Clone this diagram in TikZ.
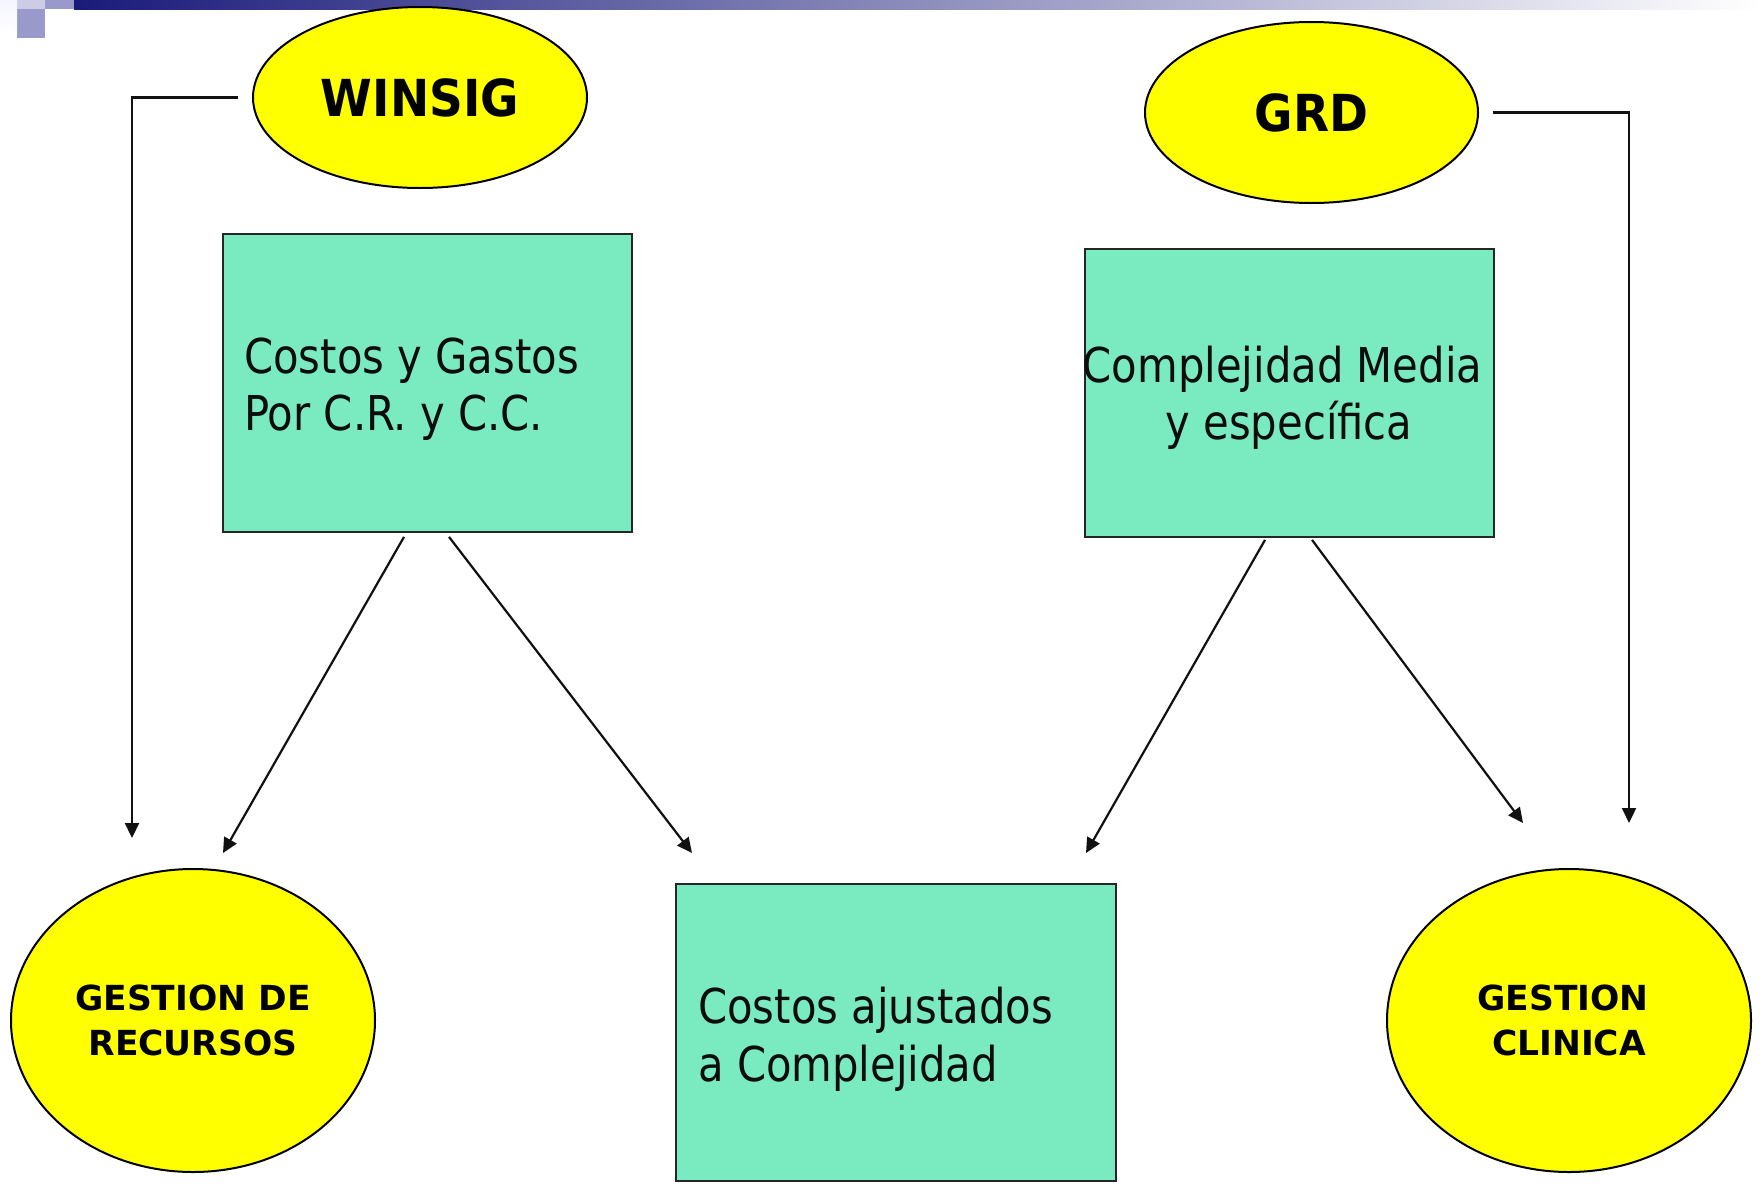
\documentclass[tikz,border=0pt]{standalone}
\usepackage{fontspec}
\setmainfont{DejaVu Sans}
\newfontfamily\regfont[FakeStretch=0.87]{DejaVu Sans}
\newfontfamily\boldfont[FakeStretch=0.92]{DejaVu Sans}
\newfontfamily\smallboldfont{DejaVu Sans}
\usetikzlibrary{arrows.meta,shapes.geometric}
\definecolor{boxfill}{RGB}{122,235,192}
\definecolor{ovalfill}{RGB}{255,255,0}
\definecolor{lineblk}{RGB}{17,17,17}
\definecolor{navybar}{RGB}{26,26,122}
\definecolor{sqlight}{RGB}{204,204,230}
\definecolor{sqmid}{RGB}{153,153,204}
\begin{document}
\begin{tikzpicture}[x=1pt,y=-1pt,
  oval/.style={ellipse, draw=black, line width=2pt, fill=ovalfill, inner sep=0pt, align=center},
  bigbold/.style={font=\boldfont\bfseries\fontsize{51}{60}\selectfont},
  smallbold/.style={font=\smallboldfont\bfseries\fontsize{34.5}{45}\selectfont},
  box/.style={rectangle, draw=black!85, line width=1.8pt, fill=boxfill, inner sep=0pt},
  boxtext/.style={font=\regfont\fontsize{48}{57.5}\selectfont, inner sep=0pt, text=black!95},
  conn/.style={draw=lineblk, line width=2.2pt, -{Triangle[length=15pt,width=14pt]}}
]
\useasboundingbox (0,0) rectangle (1760,1183);
\fill[white] (0,0) rectangle (1760,1183);
% title bar decoration
\shade[left color=navybar, right color=white] (74,0) rectangle (1760,9);
\fill[sqlight] (17,0) rectangle (45,9);
\fill[sqmid] (17,9) rectangle (45,38);
\fill[sqmid] (45,0) rectangle (74,9);
\shade[top color=blue!4, bottom color=white] (0,0) rectangle (17,35);

% ellipses
\node[oval, bigbold, minimum width=334pt, minimum height=181pt] (winsig) at (420,97.5) {WINSIG};
\node[oval, bigbold, minimum width=333pt, minimum height=181pt] (grd) at (1311.5,112.5) {GRD};
\node[oval, smallbold, minimum width=364pt, minimum height=303pt] (gr) at (193,1020.5) {GESTION DE\\RECURSOS};
\node[oval, smallbold, minimum width=364pt, minimum height=303pt] (gc) at (1569,1020.5) {GESTION\kern0.35em\\CLINICA};

% boxes
\node[box, minimum width=409pt, minimum height=298pt] (b1) at (427.5,383) {};
\node[box, minimum width=409pt, minimum height=288pt] (b2) at (1289.5,393) {};
\node[box, minimum width=440pt, minimum height=297pt] (b3) at (896,1032.5) {};

% box texts
\node[boxtext, align=left, anchor=west] (t1) at (244,389) {Costos y Gastos\\Por C.R. y C.C.};
\node[boxtext, align=center] (t2) at (1289,398) {Complejidad Media\kern13pt\\y específica};
\node[boxtext, align=left, anchor=west] (t3) at (698,1039) {Costos ajustados\\a Complejidad};

% connector end points
\coordinate (wstart) at ([xshift=-14pt]winsig.west);
\coordinate (gstart) at ([xshift=14pt]grd.east);
\coordinate (tipGRa) at (132,838);
\coordinate (tipGRb) at (223,853);
\coordinate (tipB3a) at (692,853);
\coordinate (tipB3b) at (1086,853);
\coordinate (tipGCa) at (1523,823);
\coordinate (tipGCb) at (1629,823);

% connectors
\draw[conn] (wstart) -| (tipGRa);
\draw[conn] ([shift={(-23.5,4)}]b1.south) -- (tipGRb);
\draw[conn] ([shift={(21.5,4)}]b1.south) -- (tipB3a);
\draw[conn] ([shift={(-24.5,2)}]b2.south) -- (tipB3b);
\draw[conn] ([shift={(22.5,2)}]b2.south) -- (tipGCa);
\draw[conn] (gstart) -| (tipGCb);
\end{tikzpicture}
\end{document}
